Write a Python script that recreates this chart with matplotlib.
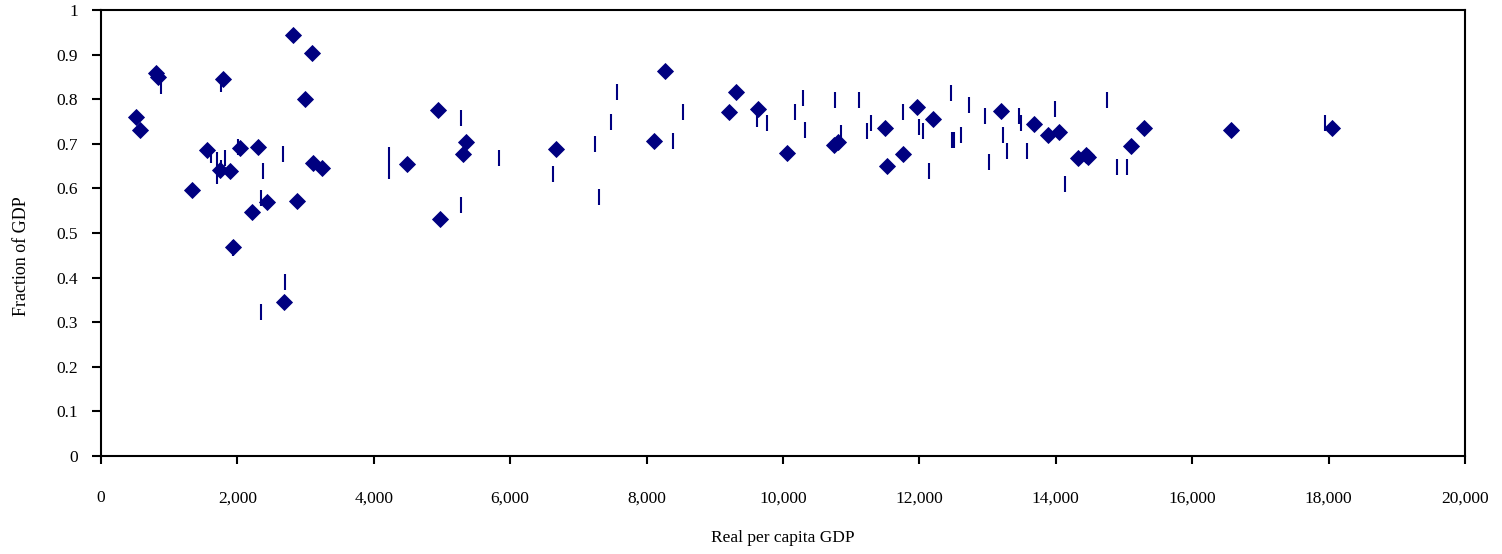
import matplotlib
matplotlib.use("Agg")
import matplotlib.pyplot as plt
from matplotlib.ticker import FuncFormatter, MultipleLocator

plt.rcParams['font.family'] = ['Liberation Serif', 'DejaVu Serif']

# diamond series: (real per capita GDP, fraction of GDP)
diamond_x = [513, 572, 806, 836, 1334, 1554, 1745, 1789, 1891, 1935,
             2038, 2214, 2302, 2434, 2683, 2815, 2874, 2991, 3094, 3109,
             3241, 4487, 4942, 4971, 5308, 5352, 6672, 8109, 8270, 9208,
             9311, 9634, 10059, 10748, 10807, 11496, 11525, 11760, 11965, 12200,
             13197, 13681, 13886, 14047, 14326, 14443, 14472, 15103, 15294, 16569,
             18050]
diamond_y = [0.760, 0.731, 0.859, 0.850, 0.596, 0.686, 0.641, 0.845, 0.639, 0.469,
             0.690, 0.547, 0.693, 0.570, 0.345, 0.944, 0.572, 0.800, 0.904, 0.657,
             0.646, 0.655, 0.776, 0.531, 0.677, 0.704, 0.688, 0.706, 0.863, 0.771,
             0.816, 0.778, 0.679, 0.697, 0.704, 0.735, 0.650, 0.677, 0.782, 0.756,
             0.774, 0.744, 0.720, 0.726, 0.668, 0.675, 0.670, 0.695, 0.735, 0.731,
             0.735]

# dash series
dash_x = [880, 1613, 1696, 1696, 1760, 1760, 1818, 1935, 2009, 2346,
          2346, 2375, 2669, 2698, 4223, 4223, 5279, 5279, 5836, 6628,
          7244, 7302, 7478, 7566, 8387, 8534, 9619, 9766, 10176, 10294,
          10323, 10763, 10851, 11115, 11232, 11291, 11760, 11994, 12053, 12141,
          12464, 12480, 12505, 12610, 12727, 12962, 13021, 13226, 13285, 13461,
          13490, 13578, 13989, 14135, 14751, 14898, 15045, 17948]
dash_y = [0.830, 0.676, 0.664, 0.628, 0.646, 0.834, 0.668, 0.466, 0.692, 0.578,
          0.324, 0.638, 0.678, 0.391, 0.674, 0.638, 0.759, 0.562, 0.669, 0.633,
          0.700, 0.580, 0.750, 0.817, 0.706, 0.772, 0.755, 0.746, 0.772, 0.803,
          0.732, 0.799, 0.724, 0.799, 0.728, 0.746, 0.772, 0.737, 0.728, 0.638,
          0.813, 0.708, 0.708, 0.719, 0.786, 0.763, 0.660, 0.719, 0.683, 0.763,
          0.746, 0.683, 0.777, 0.611, 0.799, 0.647, 0.647, 0.746]

navy = '#000080'

fig = plt.figure(figsize=(15.02, 5.54), dpi=100)
ax = fig.add_axes([0.0672, 0.1769, 0.9082, 0.8050])

ax.plot(dash_x, dash_y, linestyle='none', marker='|', markersize=12.2,
        markeredgewidth=1.5, color=navy, zorder=2)
ax.plot(diamond_x, diamond_y, linestyle='none', marker='D', markersize=8.4,
        markeredgewidth=0.6, color=navy, zorder=3)

ax.set_xlim(0, 20000)
ax.set_ylim(0, 1)
ax.xaxis.set_major_locator(MultipleLocator(2000))
ax.yaxis.set_major_locator(MultipleLocator(0.1))
ax.xaxis.set_major_formatter(FuncFormatter(lambda v, p: f"{v:,.0f}"))
ax.yaxis.set_major_formatter(FuncFormatter(lambda v, p: f"{v:g}"))

for s in ax.spines.values():
    s.set_linewidth(1.5)
ax.tick_params(axis='both', direction='out', width=1.5, labelsize=12.5)
ax.tick_params(axis='x', length=5.8, pad=19)
ax.tick_params(axis='y', length=6.5, pad=10)

ax.set_xlabel("Real per capita GDP", fontsize=12.5)
ax.xaxis.set_label_coords(0.5, -0.184)
ax.xaxis.label.set_va('center')
ax.set_ylabel("Fraction of GDP", fontsize=13)
ax.yaxis.set_label_coords(-0.058, 0.448)
ax.yaxis.label.set_va('center')

fig.savefig("out.png", dpi=100)
